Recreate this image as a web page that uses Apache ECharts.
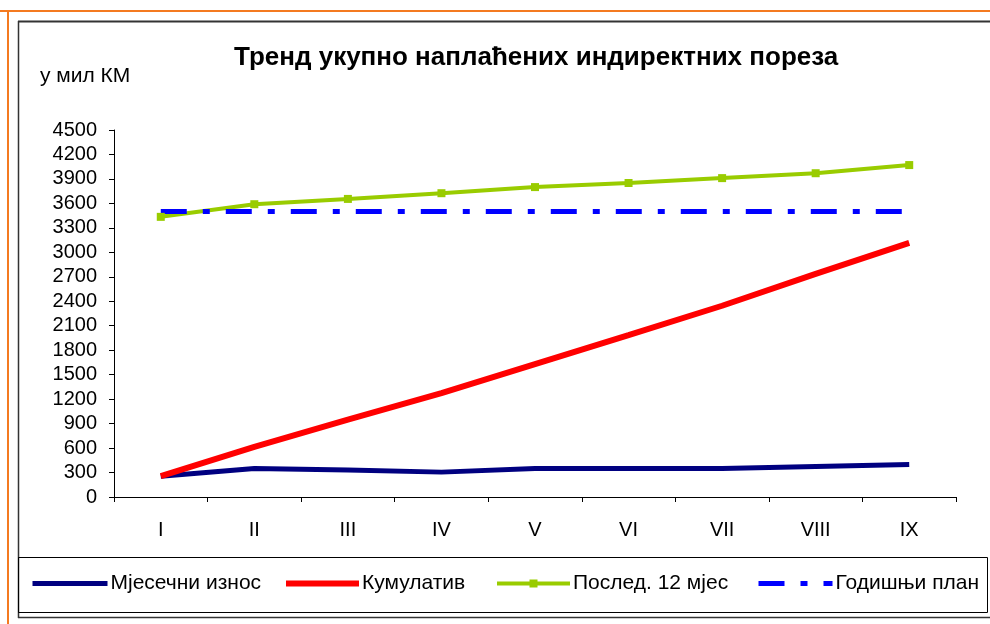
<!DOCTYPE html>
<html>
<head>
<meta charset="utf-8">
<script src="https://cdn.jsdelivr.net/npm/echarts@6/dist/echarts.min.js"></script>
<style>
html,body{margin:0;padding:0;background:#fff;}
#chart{width:990px;height:624px;}
</style>
</head>
<body>
<div id="chart"></div>
<script>
const categories = ['I','II','III','IV','V','VI','VII','VIII','IX'];
const monthly    = [255, 350, 330, 305, 350, 350, 350, 375, 400];
const cumulative = [255, 615, 950, 1275, 1630, 1985, 2345, 2735, 3115];
const last12     = [3435, 3590, 3655, 3725, 3800, 3850, 3910, 3970, 4070];
const plan       = [3500, 3500, 3500, 3500, 3500, 3500, 3500, 3500, 3500];
const seriesNames = ['Мјесечни износ','Кумулатив','Послед. 12 мјес','Годишњи план'];
const titleText = 'Тренд укупно наплаћених индиректних пореза';
const unitText = 'у мил КМ';

const FONT = '"Liberation Sans", Arial, sans-serif';
const chart = echarts.init(document.getElementById('chart'), null, {renderer:'canvas'});

function legendAt(name, left, lineWidth, showSymbol, itemW) {
  return {
    data:[name], left:left, top:573, itemWidth:itemW, itemHeight:showSymbol ? 10 : 14, itemGap:0,
    padding:0,
    lineStyle:{width:lineWidth},
    itemStyle:{opacity: showSymbol ? 1 : 0},
    textStyle:{fontFamily:FONT, fontSize:21, color:'#000', padding:[0,0,0,-2]}
  };
}

chart.setOption({
  animation:false,
  backgroundColor:'#fff',
  title:{
    text:titleText, left:229, top:40,
    textStyle:{fontFamily:FONT, fontSize:26, fontWeight:'bold', color:'#000'}
  },
  graphic:[
    {type:'line', shape:{x1:0,y1:11,x2:990,y2:11}, style:{stroke:'#F47A20', lineWidth:2}},
    {type:'line', shape:{x1:8,y1:11,x2:8,y2:624}, style:{stroke:'#F47A20', lineWidth:2}},
    {type:'line', shape:{x1:18,y1:21.5,x2:990,y2:21.5}, style:{stroke:'#333', lineWidth:2}},
    {type:'line', shape:{x1:18.5,y1:21,x2:18.5,y2:618}, style:{stroke:'#333', lineWidth:1.5}},
    {type:'line', shape:{x1:18,y1:617.5,x2:990,y2:617.5}, style:{stroke:'#333', lineWidth:1.5}},
    {type:'rect', shape:{x:18.5,y:557.5,width:969,height:55}, style:{fill:null, stroke:'#000', lineWidth:1}},
    {type:'text', left:40, top:66, style:{text:unitText, fontFamily:FONT, fontSize:21, fill:'#000'}}
  ],
  legend:[
    legendAt(seriesNames[0], 30, 5, false, 75),
    legendAt(seriesNames[1], 283, 6, false, 73),
    legendAt(seriesNames[2], 495, 4, true, 73),
    legendAt(seriesNames[3], 756, 5, false, 74)
  ],
  grid:{left:114, right:34, top:130, bottom:127, containLabel:false},
  xAxis:{
    type:'category', data:categories, boundaryGap:true,
    axisLine:{lineStyle:{color:'#000', width:1}},
    axisTick:{show:true, length:5, lineStyle:{color:'#000'}},
    axisLabel:{fontFamily:FONT, fontSize:20, color:'#000', margin:23}
  },
  yAxis:{
    type:'value', min:0, max:4500, interval:300,
    axisLine:{show:true, lineStyle:{color:'#000', width:1}},
    axisTick:{show:true, length:5, lineStyle:{color:'#000'}},
    splitLine:{show:false},
    axisLabel:{fontFamily:FONT, fontSize:20, color:'#000', margin:17,
      formatter:function(v){return String(v);}}
  },
  series:[
    {name:seriesNames[0], type:'line', data:monthly, symbol:'none',
     lineStyle:{color:'#000080', width:5}, itemStyle:{color:'#000080'}},
    {name:seriesNames[1], type:'line', data:cumulative, symbol:'none',
     lineStyle:{color:'#FF0000', width:6}, itemStyle:{color:'#FF0000'}},
    {name:seriesNames[2], type:'line', data:last12, symbol:'rect', symbolSize:8,
     lineStyle:{color:'#99CC00', width:4}, itemStyle:{color:'#99CC00'}},
    {name:seriesNames[3], type:'line', data:plan, symbol:'none',
     lineStyle:{color:'#0000FF', width:5, type:[26,16,7,16], cap:'butt'}, itemStyle:{color:'#0000FF'}}
  ]
});
</script>
</body>
</html>
